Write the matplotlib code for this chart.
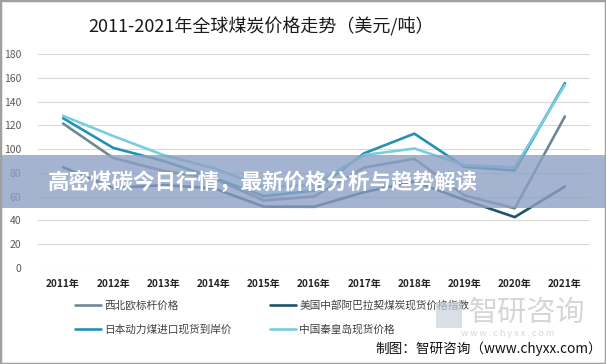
import matplotlib.pyplot as plt
from matplotlib.patches import Rectangle

plt.rcParams['font.family'] = ['Noto Sans CJK SC', 'DejaVu Sans']

# Data (USD/ton)
years = ['2011年', '2012年', '2013年', '2014年', '2015年', '2016年',
         '2017年', '2018年', '2019年', '2020年', '2021年']
nw_europe = [121.5, 92.5, 81.7, 75.4, 56.8, 60.1, 84.5, 91.8, 61.0, 50.2, 127.5]
us_capp = [84.8, 67.3, 69.7, 67.1, 51.6, 51.5, 63.8, 72.8, 57.2, 42.8, 68.5]
japan_cif = [126.0, 101.0, 90.0, 76.0, 60.5, 65.0, 96.5, 113.0, 85.0, 82.0, 155.5]
china_qhd = [128.0, 111.0, 95.0, 84.0, 68.0, 70.0, 95.0, 100.5, 86.5, 84.5, 154.0]

# drawn in this order; legend shows them column-wise as in the original
series = [
    ('西北欧标杆价格', nw_europe, '#6f8896'),
    ('日本动力煤进口现货到岸价', japan_cif, '#2392b2'),
    ('美国中部阿巴拉契煤炭现货价格指数', us_capp, '#1e5468'),
    ('中国秦皇岛现货价格', china_qhd, '#78cde0'),
]

fig = plt.figure(figsize=(6.06, 3.64), dpi=100)
ax = fig.add_axes([38 / 606, 1 - 268 / 364, 552 / 606, 214 / 364])

x = range(len(years))
for label, vals, color in series:
    ax.plot(x, vals, color=color, lw=1.9, label=label, solid_capstyle='round')

ax.set_xlim(-0.5, len(years) - 0.5)
ax.set_ylim(0, 180)
ax.set_yticks(range(0, 181, 20))
ax.set_xticks(list(x))
ax.set_xticklabels(years, fontsize=7.2, fontweight='bold', color='#222222')
ax.tick_params(axis='y', labelsize=7.5, labelcolor='#595959', length=0, pad=12)
ax.tick_params(axis='x', length=0, pad=8)
ax.grid(axis='y', color='#d9d9d9', lw=0.8)
ax.set_axisbelow(True)
for s in ax.spines.values():
    s.set_visible(False)

# Title
fig.text(0.43, 1 - 27 / 364, '2011-2021年全球煤炭价格走势（美元/吨）',
         ha='center', va='center', fontsize=13, color='#1a1a1a')

# Legend
ax.legend(loc='upper left', bbox_to_anchor=(70 / 606, 1 - 294 / 364),
          bbox_transform=fig.transFigure, ncol=2, frameon=False,
          fontsize=7.7, handlelength=2.4, handletextpad=0.3,
          columnspacing=3.6, labelspacing=1.3, borderpad=0,
          labelcolor='#404040')

# Watermark
fig.text(527 / 606, 1 - 313 / 364, '智研咨询', ha='center', va='center',
         fontsize=21, color='#cfcfcf', alpha=0.85)
fig.text(508 / 606, 1 - 333 / 364, 'w w w . c h y x x . c o m', ha='center',
         va='center', fontsize=6.5, color='#cfcfcf', alpha=0.85)
fig.add_artist(Rectangle((436 / 606, 1 - 328 / 364), 26 / 606, 26 / 364,
                         transform=fig.transFigure, facecolor='#c9d2dc',
                         edgecolor='none', alpha=0.7, zorder=1))

# Source
fig.text(602 / 606, 1 - 349 / 364, '制图：智研咨询（www.chyxx.com）',
         ha='right', va='center', fontsize=9.8, color='#111111')

# Overlay band with headline
fig.add_artist(Rectangle((0, 1 - 208 / 364), 1, 53 / 364,
                         transform=fig.transFigure, facecolor='#8da0c4',
                         edgecolor='none', alpha=0.8, zorder=5))
fig.text(263 / 606, 1 - 183 / 364, '高密煤碳今日行情，最新价格分析与趋势解读',
         ha='center', va='center', fontsize=15.5, fontweight='bold',
         color='white', zorder=6)

# Outer frame
fig.add_artist(Rectangle((0, 0), 1, 1, transform=fig.transFigure,
                         facecolor='none', edgecolor='#a0a0a0', lw=2.5, zorder=7))

fig.savefig('out.png', dpi=100)
